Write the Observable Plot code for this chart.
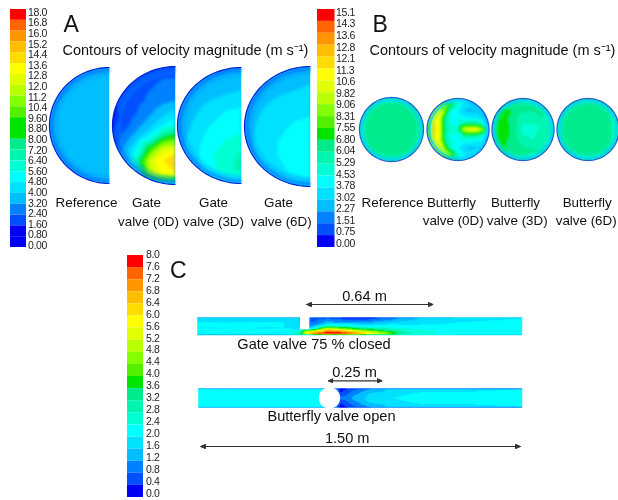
<!DOCTYPE html>
<html>
<head>
<meta charset="utf-8">
<style>html,body{margin:0;padding:0;background:#fff}svg{display:block}</style>
<script src="https://cdn.jsdelivr.net/npm/d3@7"></script>
<script src="https://cdn.jsdelivr.net/npm/@observablehq/plot@0.6"></script>
</head>
<body>
<div id="chart"></div>
<script>
// ---- legend tick labels (top to bottom)
const ticksA = ["18.0","16.8","16.0","15.2","14.4","13.6","12.8","12.0","11.2","10.4","9.60","8.80","8.00","7.20","6.40","5.60","4.80","4.00","3.20","2.40","1.60","0.80","0.00"];
const ticksB = ["15.1","14.3","13.6","12.8","12.1","11.3","10.6","9.82","9.06","8.31","7.55","6.80","6.04","5.29","4.53","3.78","3.02","2.27","1.51","0.75","0.00"];
const ticksC = ["8.0","7.6","7.2","6.8","6.4","6.0","5.6","5.2","4.8","4.4","4.0","3.6","3.2","2.8","2.4","2.0","1.6","1.2","0.8","0.4","0.0"];

// ---- 20-step rainbow (low to high)
const palette = ["#0000f5","#0050ff","#0082ff","#00beff","#00e0ff","#00ffff","#00ffd2","#00f5b0","#00ec8c","#00e400","#55f000","#82ff00","#b9ff00","#e1ff00","#ffff00","#ffdc00","#ffbe00","#ff9600","#ff6400","#ff0000"];

// ---- velocity (m/s), rows top to bottom, columns left to right
const refA = [[2.8,2.8,2.8,2.8,3],[3,3,3,3.1,3.2],[3.1,3.2,3.3,3.4,3.4],[3.1,3.3,3.4,3.5,3.5],[3.1,3.3,3.5,3.5,3.5],[3.1,3.3,3.5,3.5,3.5],[3.1,3.3,3.4,3.5,3.5],[3,3.2,3.3,3.4,3.4],[2.7,2.8,2.8,2.9,3]];
const gate0A = [[.7,.7,.9,1.2,1.3,1.4],[.7,.9,1.3,1.6,1.8,1.8],[.8,1.1,1.5,1.8,2,2],[.8,1.1,1.6,2,2.5,2.8],[.6,1.2,1.9,2.6,3.4,4],[.7,1.5,2.4,3.4,4.6,5.6],[1.1,2.2,3.4,5,8,9],[1.5,3,5,9,12,12.6],[1.8,3.6,7,12,13.5,14.5],[1.8,3.4,6,11,13,13.5],[1.2,2,3,4.4,5,5]];
const gate3A = [[2.4,2.4,2.5,2.6,2.8],[2.8,2.8,2.9,3,3.2],[3,3,3.4,3.7,3.9],[3,3.4,4,4.5,4.7],[3,3.7,4.5,5,5.2],[3.2,4,4.9,5.4,5.6],[3.2,4.1,5.2,6,6.5],[3.2,4,5,6,6.6],[2.8,3.2,3.6,4,4.2]];
const gate6A = [[2.8,2.8,2.9,3,3.2],[3,3,3.1,3.3,3.5],[3.2,3.3,3.6,3.8,4],[3.2,3.6,4,4.3,4.4],[3.2,3.8,4.3,4.6,4.7],[3.2,3.9,4.5,4.8,5],[3.2,3.9,4.5,5,5.2],[3.2,3.7,4.2,4.7,5],[2.8,3,3.3,3.5,3.6]];

// ---- velocity (m/s)
const refB = [[5,5.5,5.8,5.8,5.8,5.5,5],[5.5,6.2,6.3,6.3,6.3,6.2,5.5],[5.8,6.3,6.2,6.2,6.2,6.3,5.8],[5.8,6.3,6.2,6.2,6.2,6.3,5.8],[5.8,6.3,6.2,6.2,6.2,6.3,5.8],[5.5,6.2,6.3,6.3,6.3,6.2,5.5],[5,5.5,5.8,5.8,5.8,5.5,5]];
const fly0B = [[4,4,4,4,5,5,4,3,3,2,2],[4,6,8.5,9,7,4.6,3.5,3,2.5,2,1.5],[5,9,11,8,4.4,3.8,3,2.7,2.8,2.4,1],[6,11,10.5,6,4.4,4.2,3.8,3.8,3.6,3,1],[6.5,11.5,10.5,5.8,4.4,4.4,5.6,6,5.8,4.6,1.5],[7,12,10.5,6,4.6,5.5,10,11,11,9,5],[6.5,11.5,10.5,5.8,4.4,4.4,5.6,6,5.8,4.6,2.5],[6,11,10.5,6,4.6,4.4,4,4,3.8,3.4,2],[5,8.5,11,8,4.6,4,3,2.8,3,3,2.6],[4,5.5,8,10,8,4.8,3.8,3.2,3.2,3.2,3],[4,4,4,5,5.5,5,4,3.6,3.6,3,3]];
const fly3B = [[5,5.5,5.8,5.8,5.8,5.5,5],[6,6.9,6.7,6.3,6.2,6.1,5.6],[6.4,7.2,6.4,5.5,5.5,6,5.8],[6.4,7.4,6.4,5,4.9,5.6,6],[6.4,7.2,6.4,5.5,5.3,5.9,5.8],[6,6.9,6.7,6.3,6.1,6.1,5.6],[5,5.5,5.8,5.8,5.8,5.5,5]];
const fly6B = [[5,5.4,5.8,5.8,5.8,5.4,5],[5.6,6.3,6.3,6.3,6.3,6.2,5.6],[5.8,6.4,6.3,6.2,6.2,6.2,5.6],[5.8,6.4,6.2,6.1,6.1,6.1,5.6],[5.8,6.4,6.3,6.2,6.2,6.2,5.6],[5.6,6.3,6.3,6.3,6.3,6.2,5.6],[5,5.4,5.8,5.8,5.8,5.4,5]];

// ---- velocity (m/s): distance along pipe (m), fraction of pipe height, values by column
const gateDist = [0,.4,.47,.5,.54,.6,.68,.76,.85,.95,1.05,1.2,1.5];
const gateFrac = [0,.07,.3,.5,.62,.72,.85,.94,1];
const gateC = [[1,2,2,2,2,2,2,2,.8],[1,1.9,2,2,2,2,2,2,.8],[1.4,1.6,1.6,1.8,1.9,2.2,2.8,3,1],[1,1,1,1,1.2,4,5.6,5,1],[.8,.6,.8,1.4,2.4,4.4,7,7.2,1.2],[.4,.8,1.4,3,5,6.6,7.9,7.4,1.2],[.2,.6,1.2,2.6,4.2,5.8,7.6,7.2,1.4],[.1,.5,1.2,2.2,3.2,4.4,6.2,6.4,1.8],[.3,.8,1.5,2.2,2.8,3.4,4.6,5,1.8],[.8,1.3,1.8,2.1,2.4,2.7,3,3,2],[1.2,1.7,1.9,2.1,2.2,2.4,2.5,2.5,2],[1.5,1.9,2,2.1,2.1,2.2,2.2,2.2,1.8],[1.5,2,2.1,2.1,2.1,2.1,2.1,2.1,1.6]];
const flyDist = [0,.55,.6,.66,.72,.8,.9,1.05,1.5];
const flyFrac = [0,.06,.3,.5,.7,.94,1];
const flyC = [[.8,2,2.05,2.05,2.05,2,.8],[.8,2,2.1,2.1,2.1,2,.8],[1,2.2,2.2,2.2,2.2,2.2,1],[.2,.2,.5,.9,.5,.2,.2],[.3,.7,1.1,1.3,1.1,.7,.3],[.5,1.3,1.7,1.8,1.7,1.3,.5],[.5,1.7,1.9,2,1.9,1.7,.5],[.5,1.9,2.1,2.1,2.1,1.9,.5],[.4,2,2.1,2.1,2.1,2,.4]];

// ---- texts
const panelTitle = "Contours of velocity magnitude (m s\u207B\u00B9)";
const labelsA = ["Reference","Gate","valve (0D)","Gate","valve (3D)","Gate","valve (6D)"];
const labelsB = ["Reference","Butterfly","valve (0D)","Butterfly","valve (3D)","Butterfly","valve (6D)"];
const labelsC = ["0.64 m","Gate valve 75 % closed","0.25 m","Butterfly valve open","1.50 m"];

// ---- layout (page units)
const font = "Liberation Sans, Arial, sans-serif";
const sections = [
  {m: refA,   max: 18,   cx: 109,   cy: 125, rx: 60, ry: 58, half: true, blur: 1.5},
  {m: gate0A, max: 18,   cx: 175,   cy: 125, rx: 63, ry: 59, half: true, blur: 1.5},
  {m: gate3A, max: 18,   cx: 241,   cy: 125, rx: 64, ry: 58, half: true, blur: 1.5},
  {m: gate6A, max: 18,   cx: 310,   cy: 126, rx: 66, ry: 60, half: true, blur: 1.5},
  {m: refB,   max: 15.1, cx: 391,   cy: 129, rx: 32, ry: 32, blur: 1.2},
  {m: fly0B,  max: 15.1, cx: 457.5, cy: 129, rx: 31, ry: 31, blur: 1},
  {m: fly3B,  max: 15.1, cx: 522.5, cy: 129, rx: 31, ry: 31, blur: 1.2},
  {m: fly6B,  max: 15.1, cx: 587.5, cy: 129, rx: 31, ry: 31, blur: 1.2}
];
const pipes = [
  {dist: gateDist, frac: gateFrac, m: gateC, x0: 196.7, x1: 521.7, y0: 316.7, y1: 334.7},
  {dist: flyDist,  frac: flyFrac,  m: flyC,  x0: 197.7, x1: 521.7, y0: 387.7, y1: 407.3}
];
const bars = [
  {ticks: ticksA, x1: 10,  x2: 26,  top: 9,   bottom: 247, tx: 27.5, ty0: 12,  ty1: 245},
  {ticks: ticksB, x1: 317, x2: 334.5, top: 9, bottom: 247, tx: 335.5, ty0: 12, ty1: 243},
  {ticks: ticksC, x1: 127, x2: 143, top: 255, bottom: 497, tx: 145.5, ty0: 254, ty1: 493}
];

// ---- build tables for the marks
const lerp = (a, b, t) => a + (b - a) * t;
function sectionPoints(s) {
  const rows = s.m.length, cols = s.m[0].length, pts = [];
  s.m.forEach((row, j) => row.forEach((v, i) => {
    const u = lerp(-1, s.half ? 0 : 1, i / (cols - 1)), w = lerp(-1, 1, j / (rows - 1));
    pts.push({x: s.cx + u * s.rx, y: s.cy + w * s.ry, t: v / s.max});
  }));
  return pts;
}
function pipePoints(p) {
  const pts = [], k = (p.x1 - p.x0) / 1.5;
  p.m.forEach((col, i) => col.forEach((v, j) => {
    pts.push({x: p.x0 + p.dist[i] * k, y: lerp(p.y0, p.y1, p.frac[j]), t: v / 8});
  }));
  return pts;
}
const svgNS = "http://www.w3.org/2000/svg";
let clipN = 0;
function shaped(make, blur) {
  return (index, scales, values, dims, context, next) => {
    const g = next(index, scales, values, dims, context);
    const id = "cl" + (++clipN);
    const cp = document.createElementNS(svgNS, "clipPath");
    cp.setAttribute("id", id);
    cp.appendChild(make(scales));
    g.appendChild(cp);
    g.setAttribute("clip-path", `url(#${id})`);
    const img = g.querySelector("image");
    if (img) img.style.filter = `blur(${blur}px)`;
    return g;
  };
}
function sectionShape(s) {
  return (scales) => {
    const p = document.createElementNS(svgNS, "path");
    const x = scales.x(s.cx), y = scales.y(s.cy);
    p.setAttribute("d", s.half
      ? `M${x},${y - s.ry}A${s.rx},${s.ry} 0 0 0 ${x},${y + s.ry}Z`
      : `M${x - s.rx},${y}A${s.rx},${s.ry} 0 1 1 ${x + s.rx},${y}A${s.rx},${s.ry} 0 1 1 ${x - s.rx},${y}Z`);
    return p;
  };
}
function pipeShape(q) {
  return (scales) => {
    const r = document.createElementNS(svgNS, "rect");
    r.setAttribute("x", scales.x(q.x0)); r.setAttribute("y", scales.y(q.y0));
    r.setAttribute("width", q.x1 - q.x0); r.setAttribute("height", q.y1 - q.y0);
    return r;
  };
}
const wall = [];
sections.forEach((s, n) => {
  const a0 = s.half ? 90 : 0, a1 = s.half ? 270 : 360;
  for (let a = a0; a <= a1; a += 3) {
    const c = Math.cos(a * Math.PI / 180), d = Math.sin(a * Math.PI / 180);
    wall.push({n, half: !!s.half, x: s.cx + c * s.rx, y: s.cy - d * s.ry,
               xi: s.cx + c * (s.rx - 2.5), yi: s.cy - d * (s.ry - 2.5),
               xj: s.cx + c * (s.rx - 5), yj: s.cy - d * (s.ry - 5)});
  }
});
const barCells = bars.flatMap(b => {
  const n = b.ticks.length - 1, h = (b.bottom - b.top) / n;
  return d3.range(n).map(i => {
    const up = n - 1 - i;
    const bin = n === 20 ? up : Math.max(0, Math.floor(up * 20 / n - 0.001));
    return {x1: b.x1, x2: b.x2, y1: b.top + i * h, y2: b.top + (i + 1) * h, t: (bin + .5) / 20};
  });
});
const barTexts = bars.flatMap(b => b.ticks.map((text, i) => ({
  text, x: b.tx, y: lerp(b.ty0, b.ty1, i / (b.ticks.length - 1))
})));
const spotsA = [[86,202],[146,202],[148,221.6],[213,202],[213,221.6],[278,202],[280.7,221.6]];
const spotsB = [[392,202.7],[451,202.7],[452.7,220.7],[515,202.7],[516.7,220.7],[586.7,202.7],[585.7,220.7]];
const spotsC = [[364,296],[313.5,344],[354,371.7],[331,415.7],[346.7,437.7]];
const captions = [
  ...labelsA.map((text, i) => ({text, x: spotsA[i][0], y: spotsA[i][1]})),
  ...labelsB.map((text, i) => ({text, x: spotsB[i][0], y: spotsB[i][1]}))
];
const notes = labelsC.map((text, i) => ({text, x: spotsC[i][0], y: spotsC[i][1]}));
const letters = [{text: "A", x: 63, y: 24.5},{text: "B", x: 372, y: 24.5},{text: "C", x: 169.5, y: 270}];
const titles = [{text: panelTitle, x: 62, y: 50},{text: panelTitle, x: 369, y: 50}];
const arrows = [{x1: 306, x2: 432.7, y: 304},{x1: 327.7, x2: 381.7, y: 380.3},{x1: 200, x2: 520, y: 446}];
const slot = [{x1: 300, x2: 309.3, y1: 315, y2: 329.3}];
const disc = [{x: 329, y: 397.4}];

function solidHead(color, context) {
  const m = context.document.createElementNS(svgNS, "marker");
  m.setAttribute("viewBox", "-6 -3 6 6");
  m.setAttribute("markerWidth", 5.5); m.setAttribute("markerHeight", 5);
  m.setAttribute("markerUnits", "userSpaceOnUse");
  m.setAttribute("orient", "auto-start-reverse");
  const p = context.document.createElementNS(svgNS, "path");
  p.setAttribute("d", "M-6,-2.6L0,0L-6,2.6Z");
  p.setAttribute("fill", color);
  m.appendChild(p);
  return m;
}
function tight(index, scales, values, dims, context, next) {
  const g = next(index, scales, values, dims, context);
  g.style.letterSpacing = "-0.35px";
  return g;
}

const soft = "blur(0.35px)";
const halfWall = wall.filter(d => d.half), fullWall = wall.filter(d => !d.half);
const chart = Plot.plot({
  width: 618, height: 500, margin: 0,
  style: {background: "#fff", fontFamily: font},
  x: {domain: [0, 618], range: [0, 618], axis: null},
  y: {domain: [0, 500], range: [0, 500], axis: null},
  color: {type: "threshold", domain: d3.range(1, 20).map(i => i / 20), range: palette},
  marks: [
    Plot.rect(barCells, {x1: "x1", x2: "x2", y1: "y1", y2: "y2", fill: "t", imageFilter: "blur(0.5px)"}),
    Plot.text(barTexts, {text: "text", x: "x", y: "y", textAnchor: "start", fontSize: 10.5, fill: "#222", imageFilter: soft, render: tight}),
    ...sections.map(s => Plot.raster(sectionPoints(s), {
      x: "x", y: "y", fill: "t", interpolate: "barycentric",
      x1: s.cx - s.rx - 5, x2: (s.half ? s.cx : s.cx + s.rx) + 5, y1: s.cy - s.ry - 5, y2: s.cy + s.ry + 5,
      render: shaped(sectionShape(s), s.blur)
    })),
    Plot.line(fullWall, {x: "xj", y: "yj", z: "n", stroke: "#00f0e0", strokeWidth: 3, strokeOpacity: .35, imageFilter: "blur(1px)"}),
    Plot.line(fullWall, {x: "xi", y: "yi", z: "n", stroke: "#00d0ff", strokeWidth: 2.5, strokeOpacity: .7, imageFilter: "blur(0.7px)"}),
    Plot.line(fullWall, {x: "x", y: "y", z: "n", stroke: "#2064d8", strokeWidth: 1.3, imageFilter: "blur(0.4px)"}),
    Plot.line(halfWall, {x: "xj", y: "yj", z: "n", stroke: "#0090ff", strokeWidth: 7, strokeOpacity: .3, strokeLinecap: "butt", render: shaped2()}),
    Plot.line(halfWall, {x: "xi", y: "yi", z: "n", stroke: "#0050ff", strokeWidth: 3, strokeOpacity: .5, strokeLinecap: "butt", render: shaped2()}),
    Plot.line(halfWall, {x: "x", y: "y", z: "n", stroke: "#0020d8", strokeWidth: 1.2, strokeLinecap: "butt", imageFilter: "blur(0.3px)"}),
    ...pipes.map(q => Plot.raster(pipePoints(q), {
      x: "x", y: "y", fill: "t", interpolate: "barycentric",
      x1: q.x0 - 3, x2: q.x1 + 3, y1: q.y0 - 3, y2: q.y1 + 3,
      render: shaped(pipeShape(q), 0.7)
    })),
    Plot.rect(slot, {x1: "x1", x2: "x2", y1: "y1", y2: "y2", fill: "#fff", imageFilter: soft}),
    Plot.dot(disc, {x: "x", y: "y", r: 10.7, fill: "#fff", imageFilter: soft}),
    Plot.text(letters, {text: "text", x: "x", y: "y", textAnchor: "start", fontSize: 23, fill: "#111", imageFilter: soft}),
    Plot.text(titles, {text: "text", x: "x", y: "y", textAnchor: "start", fontSize: 14.5, fill: "#111", imageFilter: soft}),
    Plot.text(captions, {text: "text", x: "x", y: "y", fontSize: 13.4, fill: "#111", imageFilter: soft}),
    Plot.text(notes, {text: "text", x: "x", y: "y", fontSize: 14.6, fill: "#111", imageFilter: soft}),
    Plot.link(arrows, {x1: "x1", x2: "x2", y1: "y", y2: "y", stroke: "#333", strokeWidth: 1.2, markerStart: solidHead, markerEnd: solidHead})
  ]
});
// soft wall halo, kept inside each half section by blurring the paths only
function shaped2() {
  return (index, scales, values, dims, context, next) => {
    const g = next(index, scales, values, dims, context);
    g.querySelectorAll("path").forEach(p => { p.style.filter = "blur(1px)"; });
    return g;
  };
}
document.getElementById("chart").appendChild(chart);
</script>
</body>
</html>
